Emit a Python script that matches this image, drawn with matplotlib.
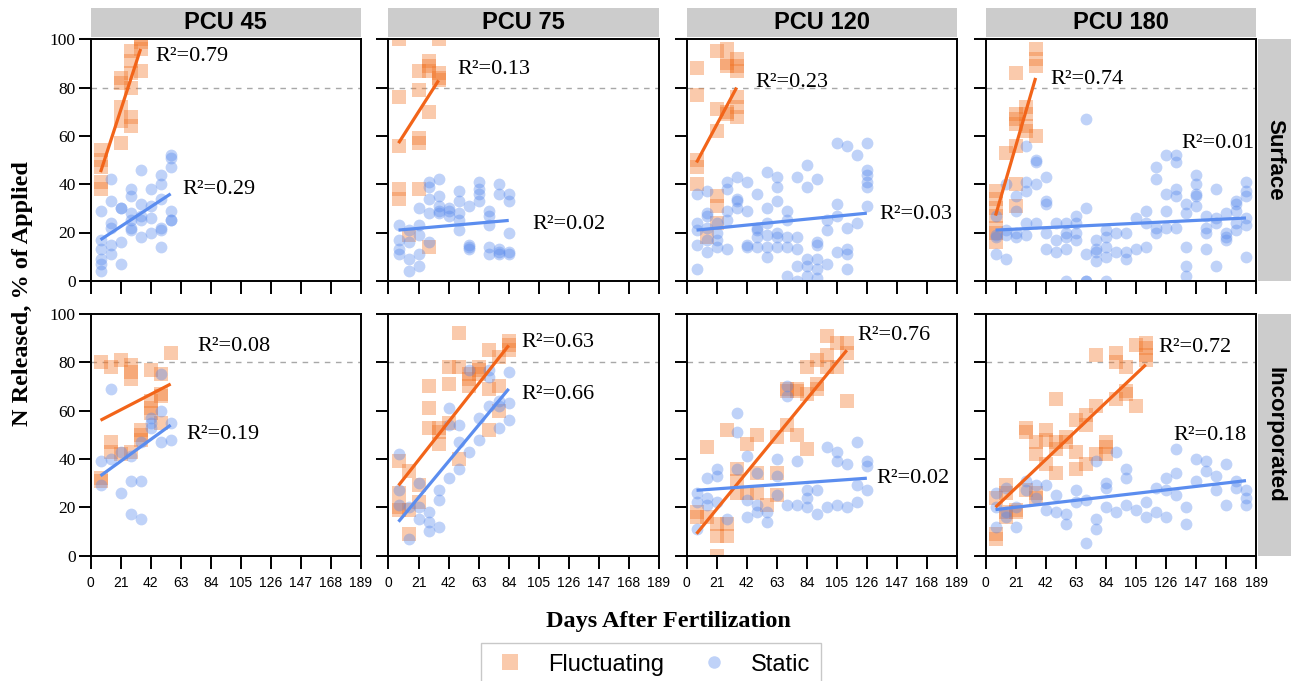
import matplotlib
matplotlib.use('Agg')
import matplotlib.pyplot as plt
from matplotlib.lines import Line2D

# ---------------- data ----------------
pcu_labels = ['PCU 45', 'PCU 75', 'PCU 120', 'PCU 180']
placement_labels = ['Surface', 'Incorporated']
x_ticks = [0, 21, 42, 63, 84, 105, 126, 147, 168, 189]
y_ticks = [0, 20, 40, 60, 80, 100]
threshold = 80

# Surface placement, fluctuating moisture (day -> % released)
surf45_fluct = {7: [54, 50, 47, 41, 38], 21: [84, 82, 72, 66, 57],
                28: [95, 91, 86, 80, 68, 64], 35: [100, 99, 96, 87]}
surf75_fluct = {7: [100, 76, 56, 38, 34], 14: [19], 21: [87, 79, 59, 57, 38],
                28: [91, 89, 87, 70, 14], 35: [100, 86, 84, 83]}
surf120_fluct = {7: [88, 77, 50, 47, 40], 14: [18], 21: [95, 71, 62, 35, 31, 24],
                 28: [96, 90, 89, 70, 69], 35: [92, 89, 87, 76, 72, 68]}
surf180_fluct = {7: [37, 34, 30, 27, 22, 20, 16], 14: [53],
                 21: [86, 69, 67, 65, 56, 40, 31], 28: [72, 69, 64, 62],
                 35: [96, 92, 89, 60]}

# Surface placement, static moisture
surf45_static = {7: [29, 17, 13, 9, 7, 4], 14: [42, 33, 24, 22, 15, 11],
                 21: [30, 30, 16, 7], 28: [38, 35, 28, 25, 22, 21],
                 35: [46, 32, 27, 25, 18], 42: [38, 31, 26, 20],
                 49: [44, 40, 34, 22, 21, 14], 56: [52, 51, 47, 29, 25, 25]}
surf75_static = {7: [23, 17, 13, 11], 14: [21, 16, 9, 4], 21: [30, 23, 19, 11, 6],
                 28: [41, 39, 34, 28, 16], 35: [42, 35, 31, 29, 28],
                 42: [30, 29, 27], 49: [37, 33, 28, 25, 21], 56: [31, 15, 14, 13],
                 63: [41, 38, 36, 33], 70: [29, 27, 23, 14, 11],
                 77: [40, 36, 13, 12, 11], 84: [36, 33, 20, 12, 11]}
surf120_static = {7: [36, 24, 21, 15, 5], 14: [37, 28, 27, 22, 17, 12],
                  21: [24, 20, 17, 14], 28: [41, 38, 29, 25, 13],
                  35: [43, 34, 33, 30], 42: [41, 29, 15, 14],
                  49: [36, 22, 21, 18, 14], 56: [45, 30, 24, 19, 14, 10],
                  63: [43, 39, 33, 20, 18, 14], 70: [29, 25, 18, 14, 2],
                  77: [43, 18, 13, 6, 0], 84: [48, 39, 9, 6, 2],
                  91: [42, 16, 15, 9, 5, 1], 98: [25, 21, 7],
                  105: [57, 32, 27, 12], 112: [56, 22, 13, 11, 5],
                  119: [52, 24], 126: [57, 46, 44, 41, 39, 31]}
surf180_static = {7: [27, 19, 18, 11], 14: [40, 21, 19, 9], 21: [35, 29, 20, 18],
                  28: [56, 41, 37, 24, 19], 35: [50, 49, 40, 24],
                  42: [43, 33, 32, 20, 13], 49: [24, 17, 12],
                  56: [24, 20, 18, 13, 0], 63: [27, 24, 20, 17],
                  70: [67, 30, 11, 0, 0], 77: [17, 13, 12, 8],
                  84: [21, 18, 14, 10, 0], 91: [20, 12], 98: [20, 12, 9],
                  105: [26, 13], 112: [29, 24, 14], 119: [47, 42, 22, 20],
                  126: [52, 36, 29, 22], 133: [52, 49, 38, 35, 22],
                  140: [32, 28, 14, 6, 2], 147: [44, 40, 36, 35, 31],
                  154: [27, 22, 20, 13], 161: [38, 26, 24, 6],
                  168: [28, 20, 18, 17], 175: [33, 32, 29, 24, 21],
                  182: [41, 37, 35, 26, 23, 10]}

# Incorporated placement, fluctuating moisture
inc45_fluct = {7: [80, 32, 31], 14: [78, 47, 43], 21: [81, 42], 28: [79, 76, 73, 43],
               35: [52, 50, 48], 42: [77, 64, 61, 59], 49: [75, 67, 66, 55], 56: [84]}
inc75_fluct = {7: [39, 26, 20, 19], 14: [35, 19, 9], 21: [29, 22], 28: [70, 61, 53],
               35: [53, 51, 46], 42: [78, 71, 55], 49: [92, 78, 40], 56: [75, 73, 70],
               63: [78, 77, 75], 70: [85, 69, 52], 77: [82, 70, 60], 84: [89, 87, 85]}
inc120_fluct = {7: [18, 16], 14: [45, 16], 21: [13, 8, 0], 28: [52, 13, 8],
                35: [36, 31, 26], 42: [46, 26], 49: [50, 34, 26], 56: [21],
                63: [49, 34, 25], 70: [69, 68, 54], 77: [69, 68, 50],
                84: [78, 67, 44], 91: [81, 71, 69], 98: [91, 83, 78],
                105: [88, 78], 112: [88, 84, 64]}
inc180_fluct = {7: [24, 9, 7], 14: [29, 26, 18, 16], 21: [19, 18], 28: [53, 51, 27],
                35: [47, 42, 26, 24], 42: [52, 48, 38], 49: [65, 47, 44, 34],
                56: [49, 47], 63: [56, 43, 36], 70: [58, 54, 38], 77: [83, 62, 42],
                84: [47, 45, 42], 91: [84, 80, 65], 98: [78, 68, 67],
                105: [87, 62], 112: [88, 86, 83, 81]}

# Incorporated placement, static moisture
inc45_static = {7: [39, 29], 14: [69, 40], 21: [43, 26], 28: [41, 31, 17],
                35: [47, 31, 15], 42: [57, 55, 53], 49: [75, 60, 47], 56: [55, 48]}
inc75_static = {7: [42, 27, 21], 14: [20, 7], 21: [30, 20, 15], 28: [18, 14, 10],
                35: [27, 23, 12], 42: [61, 54, 32], 49: [54, 47, 36], 56: [77, 43],
                63: [57, 48], 70: [77, 74, 62], 77: [64, 62, 53], 84: [76, 63, 56]}
inc120_static = {7: [26, 22, 11], 14: [32, 24, 21], 21: [36, 33, 22], 28: [15],
                 35: [59, 51, 36], 42: [41, 23, 16], 49: [34, 21, 18], 56: [18, 14],
                 63: [40, 33, 25], 70: [70, 66, 21], 77: [39, 21], 84: [27, 24, 20],
                 91: [27, 17], 98: [45, 20], 105: [43, 39, 21], 112: [38, 20],
                 119: [47, 29, 22], 126: [39, 37, 27]}
inc180_static = {7: [26, 20, 12], 14: [28, 18, 16], 21: [20, 12], 28: [31, 27],
                 35: [29, 24], 42: [29, 19], 49: [25, 18], 56: [17, 13],
                 63: [27, 22], 70: [23, 5], 77: [39, 15, 11], 84: [30, 28, 20],
                 91: [43, 18], 98: [36, 32, 21], 105: [19], 112: [22, 16],
                 119: [28, 18], 126: [32, 27, 16], 133: [44, 34, 25], 140: [20, 13],
                 147: [40, 31], 154: [39, 35], 161: [33, 27], 168: [38, 21],
                 175: [31, 28], 182: [27, 24, 21]}

# fitted trend values at first / last sampling day
trend_surf_fluct = [(45, 96), (57, 83), (49, 80), (27, 84)]
trend_surf_static = [(17, 36), (21, 25), (21, 28), (21, 26)]
trend_inc_fluct = [(56, 71), (29, 87), (9, 85), (20, 79)]
trend_inc_static = [(33, 54), (14, 69), (27, 32), (19, 31)]

r2_surf_fluct = ['0.79', '0.13', '0.23', '0.74']
r2_surf_static = ['0.29', '0.02', '0.03', '0.01']
r2_inc_fluct = ['0.08', '0.63', '0.76', '0.72']
r2_inc_static = ['0.19', '0.66', '0.02', '0.18']

# label anchor (day, value)
r2pos_surf_fluct = [(45, 93), (48, 87.5), (48, 82), (45.5, 83.5)]
r2pos_surf_static = [(64, 38), (100.5, 23.5), (135, 27.5), (137, 57)]
r2pos_inc_fluct = [(75, 86.5), (93, 88), (119.5, 91), (121, 86)]
r2pos_inc_static = [(67, 50), (93, 66.5), (132.5, 32), (131, 49.5)]

fluct_rows = [[surf45_fluct, surf75_fluct, surf120_fluct, surf180_fluct],
              [inc45_fluct, inc75_fluct, inc120_fluct, inc180_fluct]]
static_rows = [[surf45_static, surf75_static, surf120_static, surf180_static],
               [inc45_static, inc75_static, inc120_static, inc180_static]]
trend_fluct_rows = [trend_surf_fluct, trend_inc_fluct]
trend_static_rows = [trend_surf_static, trend_inc_static]
r2_fluct_rows = [r2_surf_fluct, r2_inc_fluct]
r2_static_rows = [r2_surf_static, r2_inc_static]
r2pos_fluct_rows = [r2pos_surf_fluct, r2pos_inc_fluct]
r2pos_static_rows = [r2pos_surf_static, r2pos_inc_static]

# ---------------- styling ----------------
W, H = 1291, 681
fig = plt.figure(figsize=(W / 100, H / 100), dpi=100)

SERIF = ['Liberation Serif', 'DejaVu Serif']
SANS = ['Liberation Sans', 'DejaVu Sans']
C_FL_PT = '#F27526'
C_ST_PT = '#5789ED'
C_FL_LN = '#F26419'
C_ST_LN = '#5B8DEF'
STRIP = '#CCCCCC'

col_left = [90.5, 388.5, 686.5, 985.5]
ax_w = 270.5
row_top = [39.3, 314.0]
ax_h = 241.5


def flatten(d):
    xs, ys = [], []
    for k, vals in d.items():
        for v in vals:
            xs.append(k)
            ys.append(v)
    return xs, ys


for r in range(2):
    for c in range(4):
        ax = fig.add_axes([col_left[c] / W, 1 - (row_top[r] + ax_h) / H,
                           ax_w / W, ax_h / H])
        ax.set_xlim(0, 189)
        ax.set_ylim(0, 100)
        ax.axhline(threshold, color='#A8A8A8', lw=1.0, ls=(0, (4, 4)), zorder=1)

        fx, fyv = flatten(fluct_rows[r][c])
        sx, syv = flatten(static_rows[r][c])
        ax.scatter(fx, fyv, marker='s', s=115, color=C_FL_PT, alpha=0.38,
                   linewidths=0, zorder=2)
        ax.scatter(sx, syv, marker='o', s=72, color=C_ST_PT, alpha=0.38,
                   linewidths=0, zorder=2)

        t0, t1 = trend_fluct_rows[r][c]
        ax.plot([min(fx), max(fx)], [t0, t1], color=C_FL_LN, lw=2.3,
                solid_capstyle='butt', zorder=3)
        t0, t1 = trend_static_rows[r][c]
        ax.plot([min(sx), max(sx)], [t0, t1], color=C_ST_LN, lw=2.3,
                solid_capstyle='butt', zorder=3)

        px, py = r2pos_fluct_rows[r][c]
        ax.text(px, py, 'R\u00b2=' + r2_fluct_rows[r][c], family=SERIF,
                fontsize=16, ha='left', va='center', zorder=4)
        px, py = r2pos_static_rows[r][c]
        ax.text(px, py, 'R\u00b2=' + r2_static_rows[r][c], family=SERIF,
                fontsize=16, ha='left', va='center', zorder=4)

        ax.set_xticks(x_ticks)
        ax.set_yticks(y_ticks)
        for sp in ax.spines.values():
            sp.set_linewidth(1.4)
        ax.tick_params(axis='both', direction='out', length=9, width=1.4)
        ax.tick_params(axis='x', pad=6, labelsize=10)
        ax.tick_params(axis='y', pad=1.5, labelsize=12.5)
        for lab in ax.get_xticklabels():
            lab.set_family(SANS)
        for lab in ax.get_yticklabels():
            lab.set_family(SERIF)
        if c != 0:
            ax.set_yticklabels([])
        if r != 1:
            ax.set_xticklabels([])

# top strips
for c in range(4):
    sa = fig.add_axes([col_left[c] / W, 1 - 37.3 / H, ax_w / W, 29.0 / H])
    sa.set_facecolor(STRIP)
    sa.set_xticks([])
    sa.set_yticks([])
    for sp in sa.spines.values():
        sp.set_visible(False)
    sa.text(0.5, 0.5, pcu_labels[c], transform=sa.transAxes, ha='center',
            va='center', family=SANS, fontweight='bold', fontsize=17)

# right strips
for r in range(2):
    sa = fig.add_axes([1258 / W, 1 - (row_top[r] + ax_h) / H, 33 / W, ax_h / H])
    sa.set_facecolor(STRIP)
    sa.set_xticks([])
    sa.set_yticks([])
    for sp in sa.spines.values():
        sp.set_visible(False)
    sa.text(0.52, 0.5, placement_labels[r], transform=sa.transAxes, ha='center',
            va='center', rotation=270, family=SANS, fontweight='bold',
            fontsize=16)

fig.text(23 / W, 1 - 294 / H, 'N Released, % of Applied', rotation=90,
         ha='center', va='center', family=SERIF, fontweight='bold', fontsize=17.5)
fig.text(668 / W, 1 - 621 / H, 'Days After Fertilization', ha='center',
         va='center', family=SERIF, fontweight='bold', fontsize=17.5)

handles = [Line2D([], [], marker='s', ls='none', markersize=11,
                  markerfacecolor=C_FL_PT, markeredgewidth=0, alpha=0.38),
           Line2D([], [], marker='o', ls='none', markersize=9,
                  markerfacecolor=C_ST_PT, markeredgewidth=0, alpha=0.38)]
leg = fig.legend(handles, ['Fluctuating', 'Static'], ncol=2,
                 loc='upper center', bbox_to_anchor=(651 / W, 1 - 643 / H),
                 frameon=True, fancybox=False, edgecolor='#BBBBBB',
                 prop={'family': SANS, 'size': 17}, handletextpad=0.8,
                 columnspacing=1.3, borderpad=0.45, handlelength=1.6,
                 borderaxespad=0)
leg.get_frame().set_linewidth(1.0)

fig.savefig('out.png', dpi=100)
